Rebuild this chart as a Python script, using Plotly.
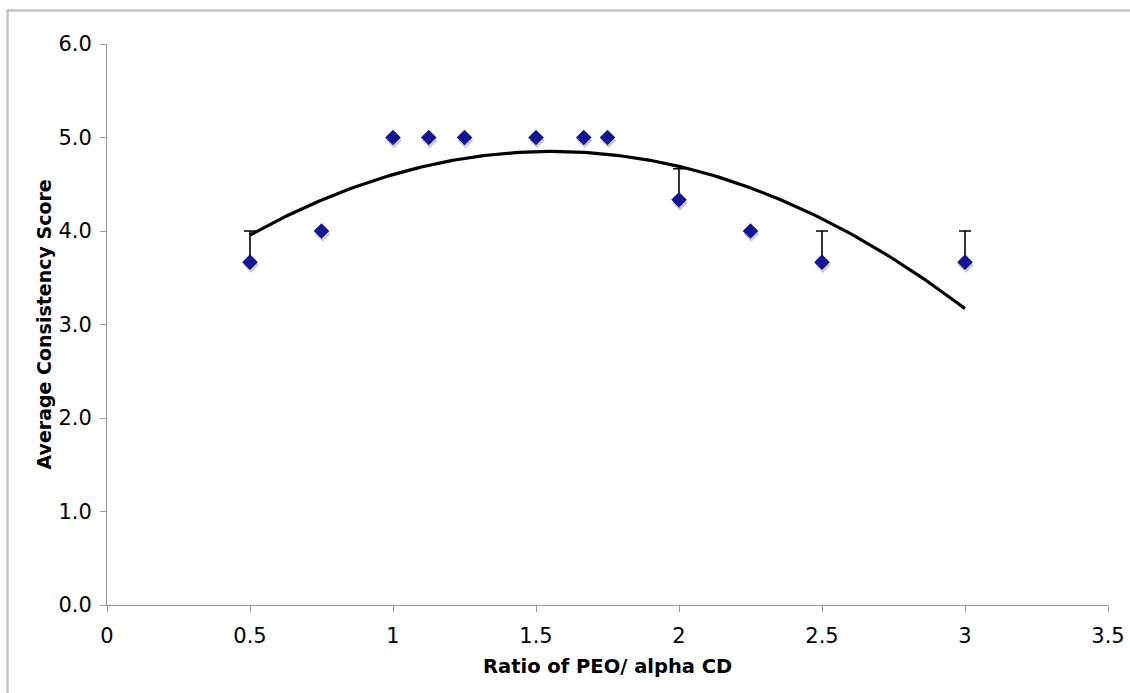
import numpy as np
import plotly.graph_objects as go

# Ratio of PEO to alpha-CD and the averaged consistency scores
ratio = [0.5, 0.75, 1.0, 1.125, 1.25, 1.5, 1.667, 1.75, 2.0, 2.25, 2.5, 3.0]
avg_score = [3.667, 4.0, 5.0, 5.0, 5.0, 5.0, 5.0, 5.0, 4.333, 4.0, 3.667, 3.667]
err_plus = [0.333, 0, 0, 0, 0, 0, 0, 0, 0.333, 0, 0.333, 0.333]

x_ticks = [0, 0.5, 1, 1.5, 2, 2.5, 3, 3.5]
x_tick_text = ["0", "0.5", "1", "1.5", "2", "2.5", "3", "3.5"]
y_ticks = [0, 1, 2, 3, 4, 5, 6]
y_tick_text = ["0.0", "1.0", "2.0", "3.0", "4.0", "5.0", "6.0"]

W, H = 1130, 693
ML, MR, MT, MB = 107, 22, 44, 88
PW, PH = W - ML - MR, H - MT - MB
x_range = [0, 3.5]
y_range = [0, 6]
px_x = (x_range[1] - x_range[0]) / PW
px_y = (y_range[1] - y_range[0]) / PH

# second-order polynomial trendline (least squares)
coef = np.polyfit(ratio, avg_score, 2)
xs = np.linspace(min(ratio), max(ratio), 200)
ys = np.polyval(coef, xs)

font = "Verdana, DejaVu Sans, sans-serif"

fig = go.Figure()

# soft drop shadow under each marker
fig.add_trace(go.Scatter(
    x=[v + 1 * px_x for v in ratio], y=[v - 3 * px_y for v in avg_score],
    mode="markers",
    marker=dict(symbol="diamond", size=12, color="rgba(170,170,170,0.6)", line=dict(width=0)),
    hoverinfo="skip", showlegend=False,
))

fig.add_trace(go.Scatter(
    x=ratio, y=avg_score, mode="markers",
    marker=dict(symbol="diamond", size=12, color="#15158f", line=dict(width=0)),
    error_y=dict(type="data", symmetric=False, array=err_plus, arrayminus=[0] * len(err_plus),
                 color="black", thickness=1.6, width=6),
    showlegend=False,
))

fig.add_trace(go.Scatter(
    x=xs, y=ys, mode="lines",
    line=dict(color="black", width=3.2),
    hoverinfo="skip", showlegend=False,
))

axis_common = dict(
    showgrid=False, zeroline=False, showline=True, linecolor="#999999", linewidth=1,
    ticks="outside", ticklen=6, tickcolor="#999999", tickwidth=1, automargin=False,
    tickfont=dict(family=font, size=21, color="black"),
)

fig.update_xaxes(range=x_range, tickvals=x_ticks, ticktext=x_tick_text, ticklabelstandoff=6, **axis_common)
fig.update_yaxes(range=y_range, tickvals=y_ticks, ticktext=y_tick_text, ticklabelstandoff=4, **axis_common)

# axis titles
fig.add_annotation(
    text="<b>Ratio of PEO/ alpha CD</b>", xref="paper", yref="paper",
    x=0.5, y=-(666 - (H - MB)) / PH, xanchor="center", yanchor="middle",
    showarrow=False, font=dict(family=font, size=19.5, color="black"),
)
fig.add_annotation(
    text="<b>Average Consistency Score</b>", xref="paper", yref="paper",
    x=(43 - ML) / PW, y=0.5, xanchor="center", yanchor="middle", textangle=-90,
    showarrow=False, font=dict(family=font, size=19, color="black"),
)

fig.add_shape(
    type="rect", xref="paper", yref="paper",
    x0=(7.5 - ML) / PW, x1=1.2,
    y0=-0.3, y1=((H - MB) - 10.5) / PH,
    line=dict(color="#c4c4c4", width=2.5), fillcolor="rgba(0,0,0,0)", layer="below",
)

fig.update_layout(
    width=W, height=H,
    margin=dict(l=ML, r=MR, t=MT, b=MB, autoexpand=False),
    paper_bgcolor="white", plot_bgcolor="white",
    showlegend=False,
)

fig.write_html("out.html")
